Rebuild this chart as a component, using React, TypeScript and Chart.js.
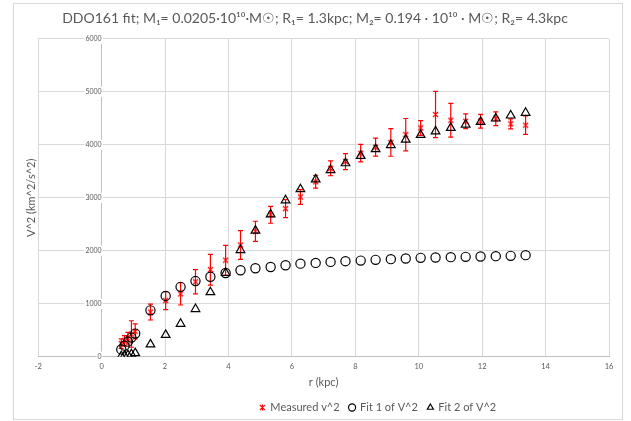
import React, { useEffect, useRef } from "react";
import { Chart, registerables } from "chart.js";

Chart.register(...registerables);

// ---- data ----
const radiusKpc = [
  0.62, 0.72, 0.83, 0.94, 1.06, 1.54, 2.02, 2.49, 2.96, 3.43, 3.91, 4.38, 4.85, 5.33, 5.8, 6.27,
  6.75, 7.22, 7.69, 8.17, 8.64, 9.12, 9.59, 10.06, 10.53, 11.01, 11.48, 11.95, 12.43, 12.9, 13.37,
];
const measuredV2 = [
  250, 300, 350, 430, 480, 844, 1061, 1187, 1416, 1644, 1823, 2109, 2368, 2680, 2795, 3016,
  3302, 3556, 3683, 3842, 3956, 4044, 4191, 4318, 4572, 4463, 4445, 4445, 4490, 4395, 4370,
];
const measuredErr = [
  90, 100, 110, 250, 140, 150, 170, 210, 230, 290, 280, 270, 190, 160, 170, 140,
  120, 140, 150, 165, 170, 260, 305, 140, 435, 320, 140, 130, 130, 95, 175,
];
const fit1V2 = [
  139, 210, 286, 362, 438, 876, 1149, 1320, 1429, 1511, 1581, 1633, 1671, 1695, 1728, 1758,
  1772, 1791, 1804, 1815, 1829, 1842, 1854, 1867, 1873, 1880, 1886, 1892, 1899, 1905, 1918,
];
const fit2V2 = [
  12, 20, 32, 48, 70, 234, 413, 623, 901, 1219, 1581, 2014, 2381, 2686, 2953, 3162,
  3347, 3524, 3652, 3791, 3919, 3995, 4096, 4187, 4254, 4319, 4382, 4433, 4496, 4553, 4604,
];
const seriesNames = ["Measured v^2", "Fit 1 of V^2", "Fit 2 of V^2"];
const titleText =
  "DDO161 fit; M\u2081= 0.0205\u00b710\u00b9\u2070\u00b7M\u2609; R\u2081= 1.3kpc; M\u2082= 0.194 \u00b7 10\u00b9\u2070 \u00b7 M\u2609; R\u2082= 4.3kpc";
const xAxisTitle = "r (kpc)";
const yAxisTitle = "V^2 (km^2/s^2)";
const xMin = -2;
const xMax = 16;
const xStep = 2;
const yMin = 0;
const yMax = 6000;
const yStep = 1000;

const FONT = "Lato, 'Open Sans', sans-serif";
const GRAY = "#595959";

function makeStarMarker(color: string, size: number): HTMLCanvasElement {
  const c = document.createElement("canvas");
  c.width = size;
  c.height = size;
  const g = c.getContext("2d")!;
  g.strokeStyle = color;
  g.lineWidth = 1.1;
  const a = 1;
  const b = size - 1;
  g.beginPath();
  g.moveTo(a, a);
  g.lineTo(b, b);
  g.moveTo(b, a);
  g.lineTo(a, b);
  g.moveTo(size / 2, 0.5);
  g.lineTo(size / 2, size - 0.5);
  g.stroke();
  return c;
}

const errorBarPlugin = {
  id: "errorBars",
  afterDatasetDraw(chart: any, args: any) {
    if (args.index !== 0) return;
    const meta = chart.getDatasetMeta(0);
    const ys = chart.scales.y;
    const ctx = chart.ctx;
    ctx.save();
    ctx.strokeStyle = "#ff0000";
    ctx.lineWidth = 1.2;
    meta.data.forEach((pt: any, i: number) => {
      const x = pt.x;
      const yTop = ys.getPixelForValue(measuredV2[i] + measuredErr[i]);
      const yBot = ys.getPixelForValue(measuredV2[i] - measuredErr[i]);
      ctx.beginPath();
      ctx.moveTo(x, yTop);
      ctx.lineTo(x, yBot);
      ctx.moveTo(x - 2.5, yTop);
      ctx.lineTo(x + 2.5, yTop);
      ctx.moveTo(x - 2.5, yBot);
      ctx.lineTo(x + 2.5, yBot);
      ctx.stroke();
    });
    ctx.restore();
  },
};

const legendShiftPlugin = {
  id: "legendShift",
  afterLayout(chart: any) {
    const lg = chart.legend;
    if (lg) {
      lg.left += 63;
      lg.right += 63;
    }
  },
};

export default function App() {
  const ref = useRef<HTMLCanvasElement | null>(null);

  useEffect(() => {
    if (!ref.current) return;
    const star = makeStarMarker("#ff0000", 7);
    const pts = (vals: number[]) => radiusKpc.map((r, i) => ({ x: r, y: vals[i] }));
    const chart = new Chart(ref.current, {
      type: "scatter",
      data: {
        datasets: [
          {
            label: seriesNames[0],
            data: pts(measuredV2),
            pointStyle: star as any,
            pointRadius: 4,
            borderColor: "#ff0000",
            backgroundColor: "#ff0000",
            borderWidth: 1.1,
            showLine: false,
            order: 3,
          },
          {
            label: seriesNames[1],
            data: pts(fit1V2),
            pointStyle: "circle",
            pointRadius: 4.6,
            borderColor: "#000000",
            backgroundColor: "rgba(0,0,0,0)",
            borderWidth: 1.2,
            showLine: false,
            order: 2,
          },
          {
            label: seriesNames[2],
            data: pts(fit2V2),
            pointStyle: "triangle",
            pointRadius: 5,
            borderColor: "#000000",
            backgroundColor: "rgba(0,0,0,0)",
            borderWidth: 1.2,
            showLine: false,
            order: 1,
          },
        ],
      },
      options: {
        animation: false,
        responsive: false,
        events: [],
        layout: { padding: { left: 21, right: 22, top: 0, bottom: -2 } },
        plugins: {
          title: {
            display: true,
            text: titleText,
            color: GRAY,
            font: { family: FONT, size: 14, weight: "normal" },
            padding: { top: 10, bottom: 12 },
          },
          legend: {
            position: "bottom",
            labels: {
              usePointStyle: true,
              boxWidth: 5,
              boxHeight: 5,
              color: GRAY,
              font: { family: FONT, size: 11 },
              padding: 10,
              sort: (a: any, b: any) => a.datasetIndex - b.datasetIndex,
            },
          },
          tooltip: { enabled: false },
        },
        scales: {
          x: {
            type: "linear",
            position: "bottom",
            min: xMin,
            max: xMax,
            ticks: { stepSize: xStep, color: GRAY, font: { family: FONT, size: 7.5 }, padding: 5 },
            grid: { color: "#d9d9d9", drawTicks: false },
            border: { color: "#bfbfbf" },
            title: {
              display: true,
              text: xAxisTitle,
              color: GRAY,
              font: { family: FONT, size: 11 },
              padding: { top: 0, bottom: 3 },
            },
          },
          y: {
            type: "linear",
            position: { x: 0 } as any,
            min: yMin,
            max: yMax,
            ticks: {
              stepSize: yStep,
              color: GRAY,
              font: { family: FONT, size: 7 },
              callback: (v: any) => String(v),
              showLabelBackdrop: true,
              backdropColor: "#ffffff",
              backdropPadding: 1,
            } as any,
            grid: { color: "#d9d9d9", tickLength: 6, tickColor: "rgba(0,0,0,0)" },
            border: { color: "#bfbfbf" },
          },
          yTitle: {
            type: "linear",
            position: "left",
            display: true,
            ticks: { display: false },
            grid: { display: false, drawTicks: false },
            border: { display: false },
            title: {
              display: true,
              text: yAxisTitle,
              color: GRAY,
              font: { family: FONT, size: 11 },
              padding: { top: 4, bottom: 0 },
            },
          },
        },
      },
      plugins: [errorBarPlugin, legendShiftPlugin],
    });
    return () => chart.destroy();
  }, []);

  return (
    <div style={{ position: "absolute", left: 0, top: 0, width: 631, height: 421, background: "#ffffff" }}>
      <div
        style={{
          position: "absolute",
          left: 13,
          top: 3,
          width: 610,
          height: 417,
          border: "1px solid #d9d9d9",
          boxSizing: "border-box",
        }}
      />
      <canvas ref={ref} width={631} height={421} style={{ position: "absolute", left: 0, top: 0 }} />
    </div>
  );
}
